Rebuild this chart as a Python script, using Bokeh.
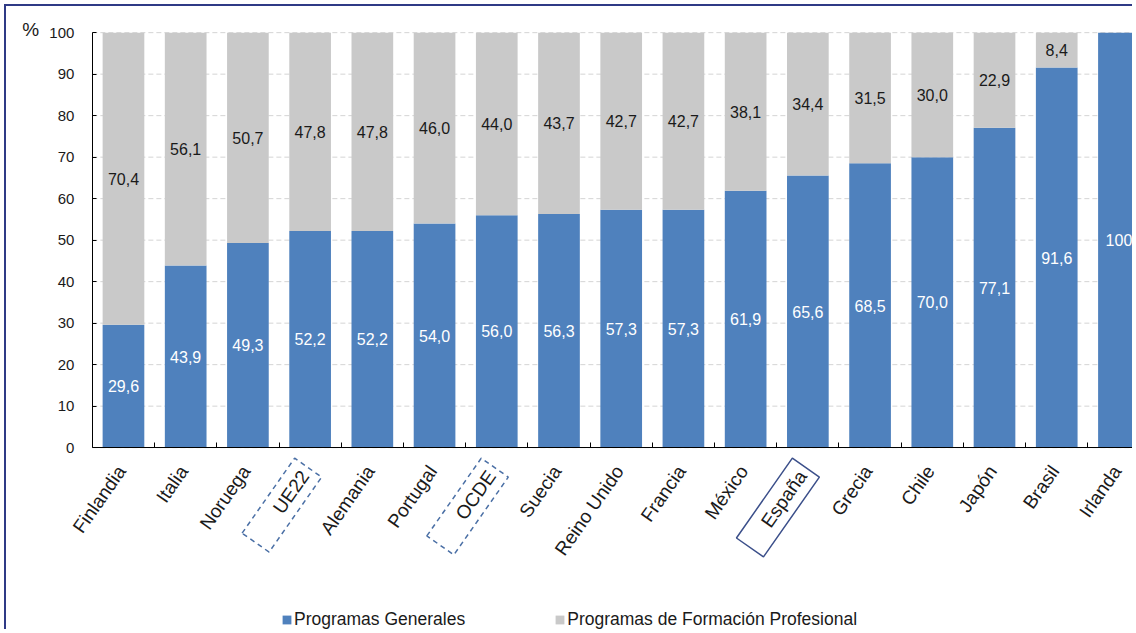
from bokeh.plotting import figure
from bokeh.models import (ColumnDataSource, Range1d, FixedTicker, Label,
                          Legend, LegendItem)
from bokeh.embed import file_html
from bokeh.resources import INLINE
from bokeh.core.properties import value

# ---------------- data ----------------
paises = ["Finlandia", "Italia", "Noruega", "UE22", "Alemania", "Portugal",
          "OCDE", "Suecia", "Reino Unido", "Francia", "México", "España",
          "Grecia", "Chile", "Japón", "Brasil", "Irlanda"]
generales = [29.6, 43.9, 49.3, 52.2, 52.2, 54.0, 56.0, 56.3, 57.3, 57.3,
             61.9, 65.6, 68.5, 70.0, 77.1, 91.6, 100.0]
profesional = [70.4, 56.1, 50.7, 47.8, 47.8, 46.0, 44.0, 43.7, 42.7, 42.7,
               38.1, 34.4, 31.5, 30.0, 22.9, 8.4, 0.0]
y_ticks = [0, 10, 20, 30, 40, 50, 60, 70, 80, 90, 100]
series_names = ["Programas Generales", "Programas de Formación Profesional"]

# ---------------- styles ----------------
BLUE = "#4F81BD"
GREY = "#C9C9C9"
FONT = "Liberation Sans"
TXT = "#1a1a1a"
box_styles = {
    "UE22":   dict(dash="5 4", color="#4a6fa5", pad_left=38),
    "OCDE":   dict(dash="5 4", color="#4a6fa5", pad_left=34),
    "España": dict(dash="solid", color="#3b4f8a", pad_left=27),
}
W, H = 1128, 625
X0, X1 = -1.88, 16.25
Y0, Y1 = -44.3, 106.3


def fmt(v):
    if v == 0:
        return ""
    if v == 100:
        return "100"
    return f"{v:.1f}".replace(".", ",")


idx = list(range(len(paises)))
src = ColumnDataSource(dict(
    x=idx,
    generales=generales,
    profesional=profesional,
    mid_g=[g / 2 for g in generales],
    mid_p=[g + f / 2 for g, f in zip(generales, profesional)],
    lab_g=[fmt(g) for g in generales],
    lab_p=[fmt(f) for f in profesional],
))

p = figure(width=W, height=H, x_range=Range1d(X0, X1), y_range=Range1d(Y0, Y1),
           output_backend="svg", toolbar_location=None, title=None,
           min_border=0)
p.outline_line_color = None
p.background_fill_color = "white"
p.border_fill_color = "white"
p.styles = {"margin-left": "4px", "margin-top": "4px",
            "border-left": "2px solid #2f3a86", "border-top": "2px solid #2f3a86"}
p.xgrid.visible = False
p.ygrid.visible = False

# dashed horizontal gridlines (behind the bars)
grid_src = ColumnDataSource(dict(y=y_ticks, x0=[-0.5] * len(y_ticks),
                                 x1=[X1] * len(y_ticks)))
p.segment(x0="x0", x1="x1", y0="y", y1="y", source=grid_src,
          line_color="#d4d4d4", line_dash="5 3", line_width=1, level="underlay")

rs = p.vbar_stack(["generales", "profesional"], x="x", width=0.67,
                  color=[BLUE, GREY], line_color=None, source=src)

p.text(x="x", y="mid_g", text="lab_g", source=src, text_color="white",
       text_align="center", text_baseline="middle",
       text_font=value(FONT), text_font_size="16px")
p.text(x="x", y="mid_p", text="lab_p", source=src, text_color=TXT,
       text_align="center", text_baseline="middle",
       text_font=value(FONT), text_font_size="16px")

# axes placed at data locations inside the frame
xa = p.xaxis[0]
xa.fixed_location = 0
xa.bounds = (-0.5, X1)
xa.ticker = FixedTicker(ticks=[], minor_ticks=[i + 0.5 for i in idx[:-1]])
xa.major_tick_line_color = None
xa.minor_tick_in = 5
xa.minor_tick_out = 0
xa.minor_tick_line_color = "black"
xa.axis_line_color = "black"

ya = p.yaxis[0]
ya.fixed_location = -0.5
ya.bounds = (0, 100)
ya.ticker = FixedTicker(ticks=y_ticks)
ya.major_tick_in = 4
ya.major_tick_out = 0
ya.minor_tick_line_color = None
ya.major_label_text_font = FONT
ya.major_label_text_font_size = "15px"
ya.major_label_text_color = TXT
ya.major_label_standoff = 18
ya.axis_line_color = "black"
ya.major_tick_line_color = "black"

# "%" unit label
p.add_layout(Label(x=-0.5, y=100, x_offset=-70, y_offset=3, text="%",
                   text_font=FONT, text_font_size="19px", text_color=TXT,
                   text_align="left", text_baseline="middle"))

# rotated category labels
for i, name in enumerate(paises):
    kw = {}
    if name in box_styles:
        st = box_styles[name]
        kw = dict(border_line_color=st["color"], border_line_dash=st["dash"],
                  border_line_width=1.5,
                  padding=dict(left=st["pad_left"], right=6, top=6, bottom=6))
    p.add_layout(Label(x=i, y=0, x_offset=-2, y_offset=-20, text=name,
                       angle=55, angle_units="deg", text_align="right",
                       text_baseline="middle", text_font=FONT,
                       text_font_size="19px", text_color=TXT, **kw))

legend = Legend(items=[LegendItem(label=series_names[0], renderers=[rs[0]]),
                       LegendItem(label=series_names[1], renderers=[rs[1]])],
                orientation="horizontal", location=(275, 1),
                padding=0, margin=0, spacing=89, glyph_width=11,
                glyph_height=11, label_standoff=2,
                label_text_font=FONT, label_text_font_size="17.5px",
                label_text_color=TXT,
                background_fill_alpha=0, border_line_color=None)
p.add_layout(legend, "center")

open("out.html", "w").write(file_html(p, INLINE))
